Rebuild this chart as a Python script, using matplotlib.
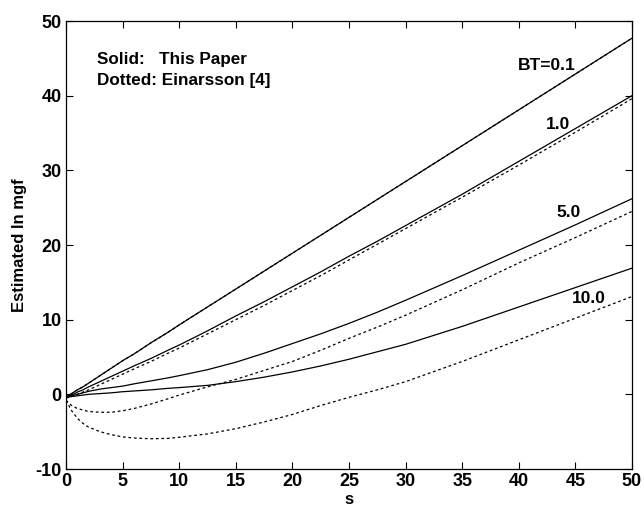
import numpy as np
import matplotlib.pyplot as plt

plt.rcParams['font.family'] = ['Liberation Sans', 'DejaVu Sans']
plt.rcParams['font.weight'] = 'bold'
plt.rcParams['axes.unicode_minus'] = False

# s values and estimated ln mgf
s = [0, 0.5, 1, 1.5, 2, 3, 4, 5, 6, 7.5, 9, 10, 12.5, 15, 17.5, 20,
     22.5, 25, 27.5, 30, 35, 40, 45, 50]

# solid: this paper
solid_01 = [-0.4, 0.1, 0.6, 1.0, 1.5, 2.5, 3.5, 4.5, 5.4, 6.9, 8.3, 9.3,
            11.7, 14.1, 16.5, 18.9, 21.3, 23.7, 26.1, 28.5, 33.3, 38.1, 42.9, 47.7]
solid_1 = [-0.4, -0.1, 0.3, 0.6, 1.0, 1.7, 2.4, 3.1, 3.8, 4.8, 5.9, 6.6,
           8.5, 10.5, 12.4, 14.4, 16.4, 18.5, 20.5, 22.6, 26.8, 31.2, 35.6, 40.0]
solid_5 = [-0.4, -0.2, 0.0, 0.2, 0.4, 0.7, 0.9, 1.1, 1.4, 1.8, 2.2, 2.5,
           3.3, 4.3, 5.5, 6.8, 8.1, 9.5, 11.0, 12.6, 15.9, 19.3, 22.7, 26.2]
solid_10 = [-0.4, -0.3, -0.2, -0.1, 0.0, 0.1, 0.2, 0.35, 0.45, 0.6, 0.8, 0.9,
            1.2, 1.7, 2.3, 3.0, 3.8, 4.7, 5.7, 6.7, 9.1, 11.7, 14.3, 16.9]

# dotted: Einarsson [4]
dot_01 = solid_01
dot_1 = [-0.5, -0.3, 0.0, 0.3, 0.6, 1.3, 2.0, 2.7, 3.4, 4.4, 5.5, 6.2,
         8.1, 10.0, 11.9, 13.9, 15.9, 18.0, 20.1, 22.2, 26.4, 30.7, 35.1, 39.6]
dot_5 = [-0.8, -1.5, -1.9, -2.1, -2.3, -2.4, -2.4, -2.2, -1.9, -1.3, -0.6, -0.1,
         1.0, 2.0, 3.2, 4.4, 5.9, 7.5, 9.0, 10.6, 14.0, 17.6, 21.0, 24.5]
dot_10 = [-0.8, -2.2, -3.2, -3.9, -4.4, -5.0, -5.4, -5.7, -5.85, -5.95, -5.9, -5.75,
          -5.3, -4.6, -3.7, -2.7, -1.5, -0.4, 0.6, 1.7, 4.4, 7.3, 10.2, 13.1]

bt_labels = ['BT=0.1', '1.0', '5.0', '10.0']
label_pos = [(39.9, 44.1), (42.4, 36.2), (43.3, 24.4), (44.7, 12.9)]

fig = plt.figure(figsize=(6.44, 5.11), dpi=100)
ax = fig.add_axes([66 / 644, 1 - 469 / 511, 566 / 644, 448 / 511])

for ys in [dot_01, dot_1, dot_5, dot_10]:
    ax.plot(s, ys, color='black', lw=0.9, linestyle=(0, (2.2, 2.2)))
for ys in [solid_01, solid_1, solid_5, solid_10]:
    ax.plot(s, ys, color='black', lw=0.9)

for lab, (x, y) in zip(bt_labels, label_pos):
    ax.text(x, y, lab, fontsize=12.5, fontweight='bold', ha='left', va='center')

ax.text(2.7, 44.9, 'Solid:   This Paper', fontsize=12.3, fontweight='bold',
        ha='left', va='center')
ax.text(2.7, 42.0, 'Dotted: Einarsson [4]', fontsize=12.3, fontweight='bold',
        ha='left', va='center')

ax.set_xlim(0, 50)
ax.set_ylim(-10, 50)
ax.set_xticks(np.arange(0, 51, 5))
ax.set_yticks(np.arange(-10, 51, 10))
ax.tick_params(direction='in', top=True, right=True, length=5, width=0.8,
               labelsize=13, pad=3)
for lbl in ax.get_xticklabels() + ax.get_yticklabels():
    lbl.set_fontweight('bold')
for sp in ax.spines.values():
    sp.set_linewidth(0.9)

ax.set_xlabel('s', fontsize=12, fontweight='bold', labelpad=1)
ax.set_ylabel('Estimated ln mgf', fontsize=12, fontweight='bold', labelpad=6)

fig.savefig('out.png', dpi=100)
